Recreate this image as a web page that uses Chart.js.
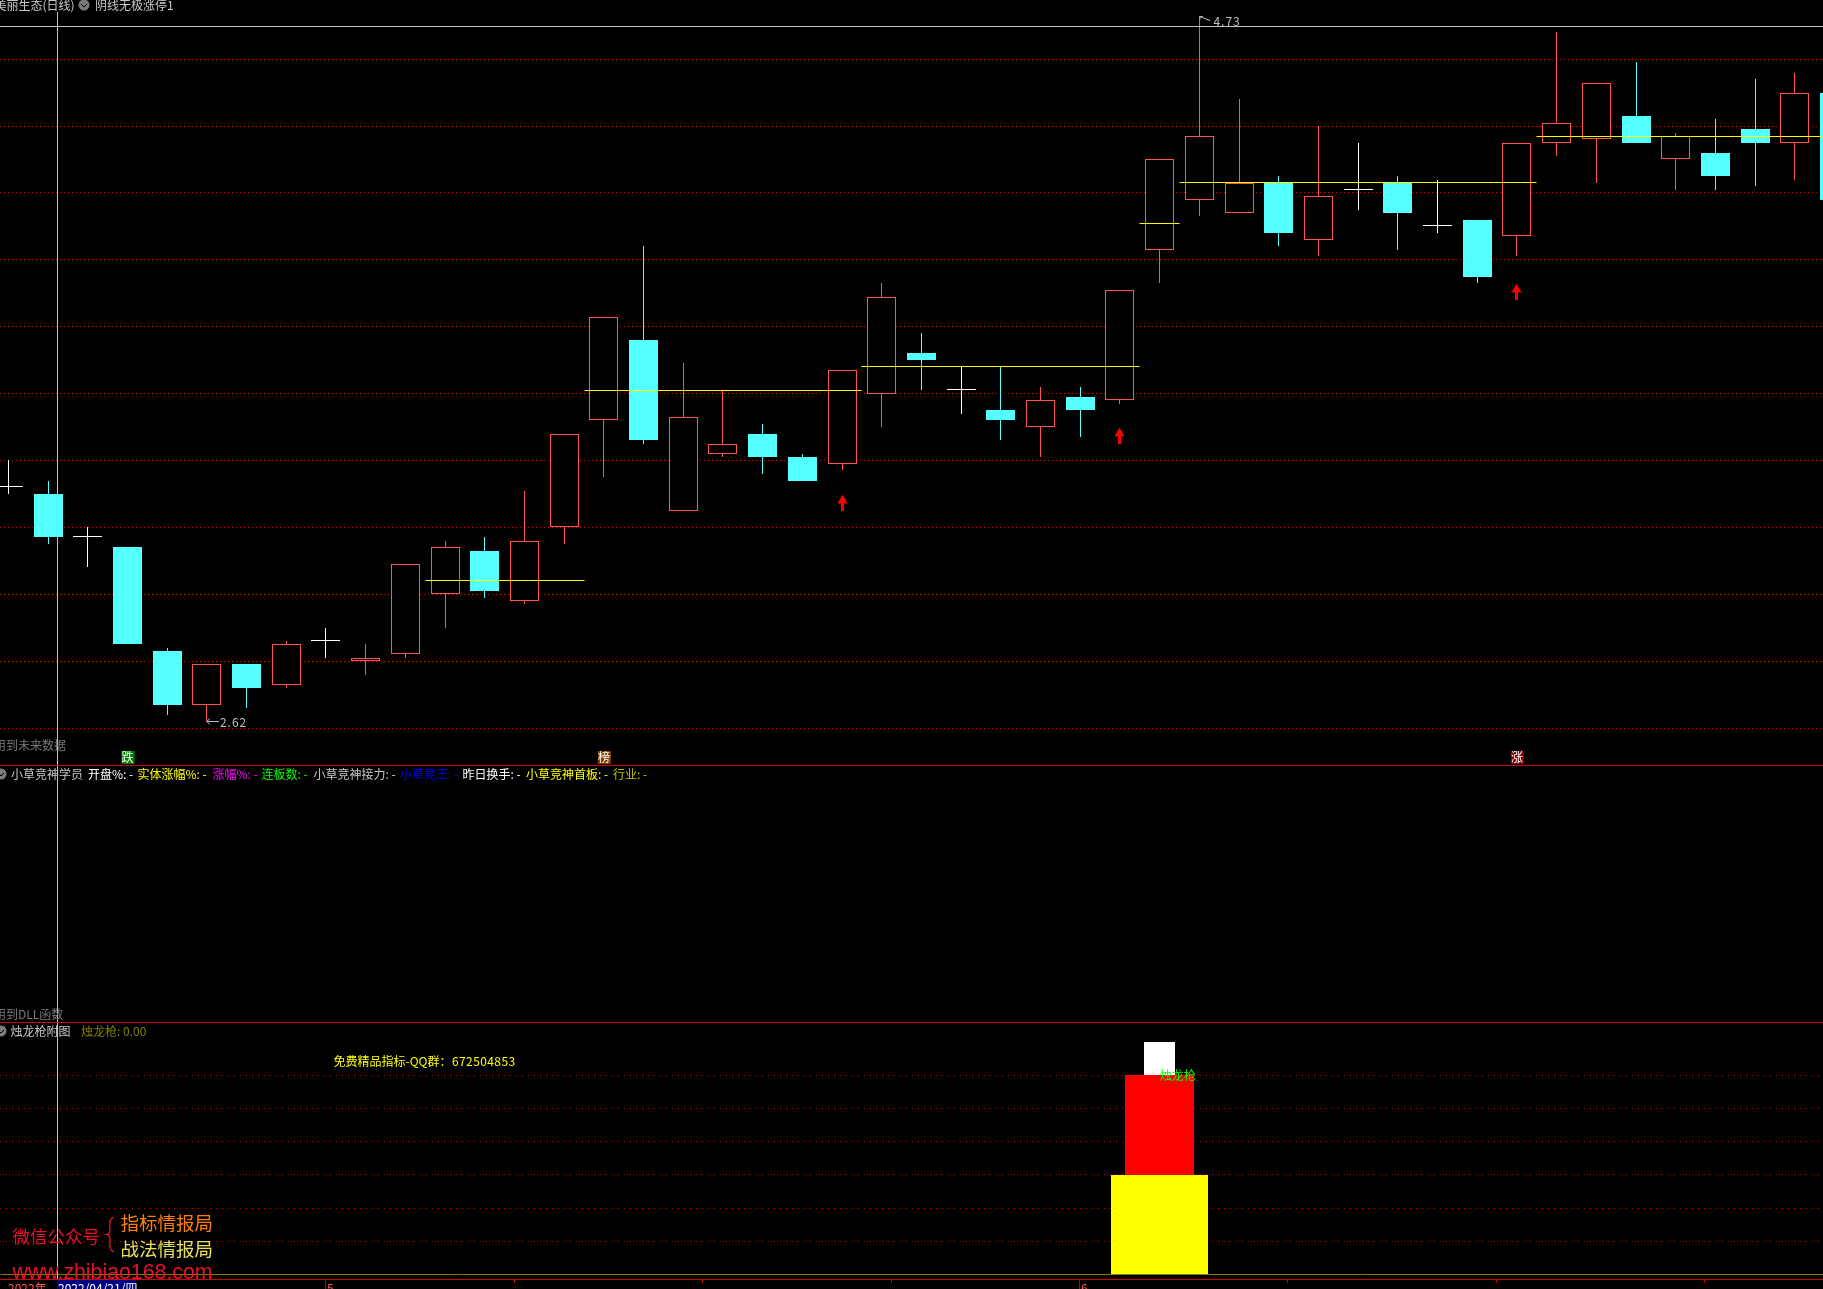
<!DOCTYPE html>
<html>
<head>
<meta charset="utf-8">
<title>美丽生态(日线)</title>
<script src="https://cdn.jsdelivr.net/npm/chart.js@4/dist/chart.umd.js"></script>
<style>
html, body { margin: 0; padding: 0; background: #000; overflow: hidden; }
canvas { position: absolute; left: 0; display: block; }
</style>
</head>
<body>
<canvas id="priceChart" width="1823" height="765" style="top:0"></canvas>
<canvas id="studyChart" width="1823" height="257" style="top:765px"></canvas>
<canvas id="spearChart" width="1823" height="267" style="top:1022px"></canvas>
<script>
"use strict";
// daily candles
const opens = [3.32, 3.30, 3.17, 3.14, 2.83, 2.67, 2.79, 2.73, 2.86, 2.80, 2.82, 3.00, 3.13, 2.98, 3.20, 3.52, 3.76, 3.25, 3.42, 3.48, 3.41, 3.39, 3.60, 3.72, 3.61, 3.55, 3.50, 3.59, 3.58, 4.03, 4.18, 4.14, 4.23, 4.06, 4.21, 4.23, 4.10, 4.12, 4.07, 4.35, 4.36, 4.43, 4.30, 4.32, 4.39, 4.35, 4.50];
const closes = [3.32, 3.17, 3.17, 2.85, 2.67, 2.79, 2.72, 2.85, 2.86, 2.81, 3.09, 3.14, 3.01, 3.16, 3.48, 3.83, 3.46, 3.53, 3.45, 3.41, 3.34, 3.67, 3.89, 3.70, 3.61, 3.52, 3.58, 3.55, 3.91, 4.30, 4.37, 4.23, 4.08, 4.19, 4.21, 4.14, 4.10, 3.95, 4.35, 4.41, 4.53, 4.35, 4.37, 4.25, 4.35, 4.50, 4.18];
const highs = [3.40, 3.34, 3.20, 3.14, 2.84, 2.79, 2.79, 2.86, 2.90, 2.85, 3.09, 3.16, 3.17, 3.31, 3.48, 3.83, 4.04, 3.69, 3.61, 3.51, 3.42, 3.67, 3.93, 3.78, 3.68, 3.68, 3.62, 3.62, 3.91, 4.30, 4.73, 4.48, 4.25, 4.40, 4.35, 4.25, 4.24, 4.12, 4.35, 4.68, 4.53, 4.59, 4.38, 4.42, 4.54, 4.56, 4.50];
const lows = [3.30, 3.15, 3.08, 2.85, 2.64, 2.62, 2.66, 2.72, 2.81, 2.76, 2.81, 2.90, 2.99, 2.97, 3.15, 3.35, 3.45, 3.25, 3.41, 3.36, 3.34, 3.37, 3.50, 3.61, 3.54, 3.46, 3.41, 3.47, 3.57, 3.93, 4.13, 4.14, 4.04, 4.01, 4.15, 4.03, 4.08, 3.93, 4.01, 4.31, 4.23, 4.35, 4.21, 4.21, 4.22, 4.24, 4.18];
const priceLevels = [4.6, 4.4, 4.2, 4.0, 3.8, 3.6, 3.4, 3.2, 3.0, 2.8, 2.6];

// yellow step lines
const stepStarts = [10.5, 14.5, 21.5, 28.5, 29.5, 38.5];
const stepEnds = [14.5, 21.5, 28.5, 29.5, 38.5, 46];
const stepLevels = [3.04, 3.61, 3.68, 4.11, 4.23, 4.37];

// red arrows under the candles
const arrowBars = [21, 28, 38];
const arrowTails = [3.25, 3.45, 3.88];
const arrowTips = [3.28, 3.48, 3.91];

// bottom panel
const spearBar = 29;
const spearLows = [0, 30, 60];
const spearHighs = [30, 60, 70];
const spearLevels = [10, 20, 30, 40, 50, 60];

// time axis
const monthBars = [7.98, 26.97];
const monthNames = ["5", "6"];
const weekBars = [12.74, 17.47, 22.23, 32.2, 37.47, 42.7];

// header of the middle panel
const studyNames = ["小草竞神学员", "开盘%: -", "实体涨幅%: -", "涨幅%: -", "连板数: -", "小草竞神接力: -", "小草竞王: -", "昨日换手: -", "小草竞神首板: -", "行业: -"];
const studyColors = ["#c8c8c8", "#ffffff", "#ffff00", "#ff00ff", "#00ff00", "#c8c8c8", "#0000ff", "#ffffff", "#ffff00", "#c0c000"];
const studyLeft = [11, 88, 137.5, 212.5, 261.5, 313.5, 400, 462.5, 526, 613];

const RED = "#ff5454";
const CYAN = "#54ffff";
const GRID = "#d00000";
const FONT = '12px "Noto Sans CJK SC", "Noto Sans", sans-serif';
const X_MIN = -0.2116;
const X_MAX = 45.708;
const CROSS_X = 57;

function candleColor(i) {
    if (closes[i] > opens[i]) return RED;
    if (closes[i] < opens[i]) return CYAN;
    return "#ffffff";
}

function xScale() {
    return { type: "linear", display: false, offset: false, min: X_MIN, max: X_MAX, grid: { offset: false } };
}

function yScale(min, max, levels, gap) {
    return {
        min: min,
        max: max,
        position: "left",
        ticks: { display: false },
        grid: { color: GRID, drawTicks: false, tickLength: 0 },
        border: { display: false, dash: [1, gap] },
        afterBuildTicks: function (scale) {
            scale.ticks = levels.map(function (v) { return { value: v }; });
        },
        afterFit: function (scale) { scale.width = 0; }
    };
}

// keeps every bar and line on whole pixels, like the terminal draws them
const snapPlugin = {
    id: "snap",
    afterDatasetsUpdate: function (chart) {
        chart.getSortedVisibleDatasetMetas().forEach(function (meta) {
            meta.data.forEach(function (el) {
                el.x = Math.floor(el.x) + 0.5;
                if (meta.type === "bar") {
                    el.y = Math.round(el.y);
                    el.base = Math.round(el.base);
                } else {
                    el.y = Math.floor(el.y) + 0.5;
                }
            });
        });
    }
};

function label(ctx, text, x, y, color, font, spacing) {
    ctx.font = font || FONT;
    ctx.letterSpacing = spacing || "0px";
    ctx.fillStyle = color;
    ctx.textAlign = "left";
    ctx.textBaseline = "middle";
    ctx.fillText(text, x, y);
}

function badge(ctx, text, x, color) {
    ctx.fillStyle = color;
    ctx.fillRect(x - 6, 751, 13, 13);
    label(ctx, text, x - 6, 757.5, "#ffffff");
}

function optionIcon(ctx, x, y) {
    ctx.fillStyle = "#7a7a7a";
    ctx.beginPath();
    ctx.arc(x, y, 5.5, 0, Math.PI * 2);
    ctx.fill();
    ctx.strokeStyle = "#000000";
    ctx.lineWidth = 1;
    ctx.beginPath();
    ctx.moveTo(x - 3, y - 1);
    ctx.lineTo(x, y + 2);
    ctx.lineTo(x + 3, y - 1);
    ctx.stroke();
}

function pricePanel(chart) {
    const ctx = chart.ctx;
    const xs = chart.scales.x;
    const ys = chart.scales.y;
    ctx.save();
    ctx.fillStyle = "#c4c4c4";
    ctx.fillRect(0, 26, 1823, 1);
    ctx.fillRect(CROSS_X, 12, 1, 753);

    label(ctx, "美丽生态(日线)", -5.5, 5, "#c8c8c8");
    optionIcon(ctx, 84, 5);
    label(ctx, "阴线无极涨停1", 95, 5, "#c8c8c8");
    label(ctx, "用到未来数据", -6, 745, "#787878");

    // highest and lowest price tags
    const hx = xs.getPixelForValue(30);
    const hy = ys.getPixelForValue(4.73);
    ctx.strokeStyle = "#c0c0c0";
    ctx.lineWidth = 1;
    ctx.beginPath();
    ctx.moveTo(hx + 0.5, hy + 1);
    ctx.lineTo(hx + 11, hy + 5);
    ctx.moveTo(hx + 0.5, hy + 1);
    ctx.lineTo(hx + 3.5, hy + 1);
    ctx.moveTo(hx + 0.5, hy + 1);
    ctx.lineTo(hx + 0.5, hy + 4);
    ctx.stroke();
    label(ctx, "4.73", hx + 14, hy + 6, "#c0c0c0", null, "1px");

    const lx = xs.getPixelForValue(5);
    const ly = Math.round(ys.getPixelForValue(2.62)) + 0.5;
    ctx.beginPath();
    ctx.moveTo(lx, ly);
    ctx.lineTo(lx + 12, ly);
    ctx.moveTo(lx + 3, ly - 3);
    ctx.lineTo(lx, ly);
    ctx.lineTo(lx + 3, ly + 3);
    ctx.stroke();
    label(ctx, "2.62", lx + 13, ly + 1, "#c0c0c0", null, "1px");

    badge(ctx, "跌", xs.getPixelForValue(3), "#008000");
    badge(ctx, "榜", xs.getPixelForValue(15), "#804000");
    badge(ctx, "涨", xs.getPixelForValue(38), "#800000");
    ctx.restore();
}

function studyPanel(chart) {
    const ctx = chart.ctx;
    ctx.save();
    ctx.translate(0, -765);
    ctx.fillStyle = "#c4c4c4";
    ctx.fillRect(CROSS_X, 765, 1, 257);
    ctx.fillStyle = GRID;
    ctx.fillRect(0, 765, 1823, 1);
    optionIcon(ctx, 1, 774);
    studyNames.forEach(function (name, i) {
        label(ctx, name, studyLeft[i], 774, studyColors[i]);
    });
    label(ctx, "用到DLL函数", -6, 1014, "#787878");
    ctx.restore();
}

function spearPanel(chart) {
    const ctx = chart.ctx;
    const xs = chart.scales.x;
    const ys = chart.scales.y;
    ctx.save();
    ctx.translate(0, -1022);
    ctx.fillStyle = "#c4c4c4";
    ctx.fillRect(CROSS_X, 1022, 1, 257);
    ctx.fillStyle = GRID;
    ctx.fillRect(0, 1022, 1823, 1);
    ctx.fillRect(0, 1279, 1823, 1);

    optionIcon(ctx, 1, 1031);
    label(ctx, "烛龙枪附图", 10.5, 1031, "#c8c8c8");
    label(ctx, "烛龙枪: 0.00", 81, 1031, "#808000");
    label(ctx, "免费精品指标-QQ群：", 333.5, 1061, "#ffff00");
    label(ctx, "672504853", 452, 1061, "#ffff00", null, "0.4px");
    label(ctx, "烛龙枪", xs.getPixelForValue(spearBar), 1022 + ys.getPixelForValue(spearHighs[1]), "#00ff00");

    // watermark
    const big = '17.5px "Noto Sans CJK SC", sans-serif';
    label(ctx, "微信公众号", 12.5, 1236, "#e8102a", big);
    label(ctx, "指标情报局", 120.5, 1223, "#ff8000", '18.5px "Noto Sans CJK SC", sans-serif');
    label(ctx, "战法情报局", 120.5, 1249, "#e8e060", '18.5px "Noto Sans CJK SC", sans-serif');
    ctx.strokeStyle = "#e8102a";
    ctx.lineWidth = 1.3;
    ctx.beginPath();
    ctx.moveTo(114, 1217);
    ctx.quadraticCurveTo(108.5, 1219, 110, 1229);
    ctx.quadraticCurveTo(110, 1234, 107, 1234.5);
    ctx.quadraticCurveTo(110, 1235, 110, 1240);
    ctx.quadraticCurveTo(108.5, 1250, 114, 1252);
    ctx.stroke();
    label(ctx, "www.zhibiao168.com", 12.5, 1273, "#e8102a", '21.3px "Liberation Sans", sans-serif');

    // time axis
    ctx.fillStyle = GRID;
    weekBars.forEach(function (bar) {
        ctx.fillRect(Math.round(xs.getPixelForValue(bar)), 1279, 1, 4);
    });
    monthBars.forEach(function (bar, i) {
        const x = Math.round(xs.getPixelForValue(bar));
        ctx.fillStyle = GRID;
        ctx.fillRect(x, 1279, 1, 10);
        label(ctx, monthNames[i], x + 2, 1288, "#ff5454");
    });
    label(ctx, "2022年", 8, 1288, "#ff5454");
    ctx.fillStyle = "#000080";
    ctx.fillRect(57, 1280, 79, 9);
    label(ctx, "2022/04/21/四", 58, 1288, "#ffffff");
    ctx.restore();
}

function barOptions() {
    return { grouped: false, inflateAmount: 0, animation: false, responsive: false, events: [], layout: { autoPadding: false, padding: 0 }, plugins: { legend: { display: false }, tooltip: { enabled: false } } };
}

function stepLine(i) {
    return {
        type: "line",
        order: 1,
        data: [{ x: stepStarts[i], y: stepLevels[i] }, { x: stepEnds[i], y: stepLevels[i] }],
        borderColor: "#ffff00",
        borderWidth: 1,
        pointRadius: 0,
        tension: 0
    };
}

function createPriceChart() {
    const ids = opens.map(function (v, i) { return i; });
    const wicks = {
        type: "bar",
        order: 4,
        barThickness: 1,
        inflateAmount: 0,
        data: ids.map(function (i) { return { x: i, y: [lows[i], highs[i]] }; }),
        backgroundColor: ids.map(candleColor),
        borderWidth: 0
    };
    const bodies = {
        type: "bar",
        order: 3,
        barThickness: 29,
        inflateAmount: 0,
        minBarLength: 1,
        data: ids.map(function (i) { return { x: i, y: [opens[i], closes[i]] }; }),
        backgroundColor: ids.map(function (i) { return closes[i] > opens[i] ? "#000000" : candleColor(i); }),
        borderColor: RED,
        borderWidth: ids.map(function (i) { return closes[i] > opens[i] ? 1 : 0; }),
        borderSkipped: false
    };
    const arrowStems = {
        type: "bar",
        order: 2,
        barThickness: 3,
        inflateAmount: 0,
        data: arrowBars.map(function (bar, i) { return { x: bar, y: [arrowTails[i], arrowTips[i]] }; }),
        backgroundColor: "#ff0000",
        borderWidth: 0
    };
    const arrowHeads = {
        type: "line",
        order: 2,
        showLine: false,
        data: arrowBars.map(function (bar, i) { return { x: bar, y: arrowTips[i] }; }),
        pointStyle: "triangle",
        pointRadius: 5,
        pointBackgroundColor: "#ff0000",
        pointBorderColor: "#ff0000"
    };
    new Chart(document.getElementById("priceChart"), {
        type: "bar",
        data: { datasets: [wicks, bodies, arrowStems, arrowHeads].concat(stepLevels.map(function (v, i) { return stepLine(i); })) },
        options: Object.assign(barOptions(), {
            scales: { x: xScale(), y: yScale(2.4894, 4.7768, priceLevels, 3) }
        }),
        plugins: [snapPlugin, { id: "pricePanel", afterDraw: pricePanel }]
    });
}

function createStudyChart() {
    new Chart(document.getElementById("studyChart"), {
        type: "bar",
        data: { datasets: [] },
        options: Object.assign(barOptions(), {
            scales: { x: xScale(), y: { display: false, min: 0, max: 1 } }
        }),
        plugins: [{ id: "studyPanel", afterDraw: studyPanel }]
    });
}

function createSpearChart() {
    const widths = [97, 69, 31];
    const colors = ["#ffff00", "#ff0000", "#ffffff"];
    const layers = spearLows.map(function (low, i) {
        return {
            type: "bar",
            order: 2,
            barThickness: widths[i],
            inflateAmount: 0,
            data: [{ x: spearBar, y: [low, spearHighs[i]] }],
            backgroundColor: colors[i],
            borderWidth: 0
        };
    });
    const zeroLine = {
        type: "line",
        order: 1,
        data: [{ x: X_MIN, y: 0 }, { x: X_MAX, y: 0 }],
        borderColor: "#808000",
        borderWidth: 1,
        pointRadius: 0
    };
    const options = Object.assign(barOptions(), {
        scales: { x: xScale(), y: yScale(-1.355, 76.05, spearLevels, 5) }
    });
    options.layout = { autoPadding: false, padding: { bottom: 10 } };
    new Chart(document.getElementById("spearChart"), {
        type: "bar",
        data: { datasets: layers.concat([zeroLine]) },
        options: options,
        plugins: [snapPlugin, { id: "spearPanel", afterDraw: spearPanel }]
    });
}

createPriceChart();
createStudyChart();
createSpearChart();
</script>
</body>
</html>
